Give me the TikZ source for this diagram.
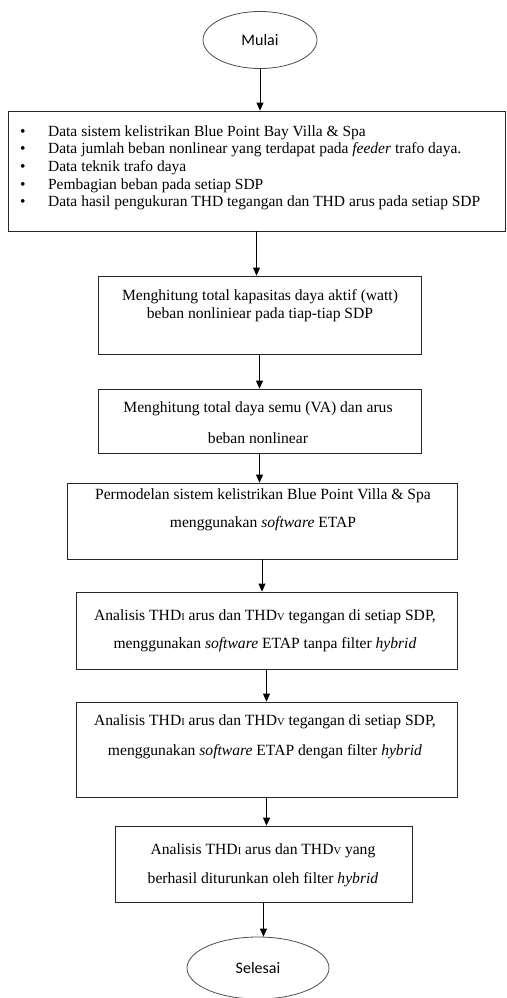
\documentclass[tikz,border=0pt]{standalone}
\usepackage{fontspec}
\setmainfont{Liberation Serif}
\newfontfamily\sansflow{Carlito}
\usetikzlibrary{shapes}
\usetikzlibrary{arrows.meta}

\newcommand{\thdx}[1]{THD{\fontsize{10.5}{10.5}\selectfont #1}}

\begin{document}
\begin{tikzpicture}[x=1pt, y=-1pt,
		kotak/.style={rectangle, draw=black!85, line width=0.8pt},
		bulat/.style={ellipse, draw=black!70, line width=0.8pt, font=\sansflow\fontsize{16}{18}\selectfont},
		isi/.style={anchor=north, align=center, inner sep=0pt, font=\fontsize{15.6}{#1}\selectfont},
		panah/.style={-{Triangle[width=7pt,length=8pt]}, line width=0.8pt}
		]
		
		\useasboundingbox (0,0) rectangle (506,998);
		
		\node[bulat, minimum width=114, minimum height=57] at (260,40) (mulai) {Mulai};
		\node[kotak, minimum width=497, minimum height=120] at (256.5,171) (data) {};
		\node[kotak, minimum width=323, minimum height=78] at (259.5,315) (hitungP) {};
		\node[kotak, minimum width=323, minimum height=64] at (259.5,421) (hitungS) {};
		\node[kotak, minimum width=390, minimum height=76] at (262,521) (model) {};
		\node[kotak, minimum width=381, minimum height=77] at (266.5,630.5) (tanpa) {};
		\node[kotak, minimum width=381, minimum height=95] at (266.5,749.5) (dengan) {};
		\node[kotak, minimum width=297, minimum height=76] at (263.5,864) (hasil) {};
		\node[bulat, minimum width=142, minimum height=62] at (258,968) (selesai) {Selesai};
		
		% isi kotak
		\node[anchor=north west, inner sep=0pt, font=\fontsize{15.5}{17.7}\selectfont] at (20,123.5) (tdata) {%
			\begin{tabular}{@{}l@{\hspace{22.5pt}}l@{}}
				\textbullet & Data sistem kelistrikan Blue Point Bay Villa \& Spa \\
				\textbullet & Data jumlah beban nonlinear yang terdapat pada \textit{feeder} trafo daya. \\
				\textbullet & Data teknik trafo daya \\
				\textbullet & Pembagian beban pada setiap SDP \\
				\textbullet & Data hasil pengukuran THD tegangan dan THD arus pada setiap SDP
			\end{tabular}};
		\node[isi=18] at (260,289.5) (thitungP) {Menghitung total kapasitas daya aktif (watt) \\ beban nonliniear pada tiap-tiap SDP};
		\node[isi=31] at (258,401.5) (thitungS) {Menghitung total daya semu (VA) dan arus \\ beban nonlinear};
		\node[isi=28] at (263,488.5) (tmodel) {Permodelan sistem kelistrikan Blue Point Villa \& Spa \\ menggunakan \textit{software} ETAP};
		\node[isi=28] at (265,609.5) (ttanpa) {Analisis \thdx{I} arus dan \thdx{V} tegangan di setiap SDP, \\ menggunakan \textit{software} ETAP tanpa filter \textit{hybrid}};
		\node[isi=30] at (265,714.5) (tdengan) {Analisis \thdx{I} arus dan \thdx{V} tegangan di setiap SDP, \\ menggunakan \textit{software} ETAP dengan filter \textit{hybrid}};
		\node[isi=29] at (263,843.5) (thasil) {Analisis \thdx{I} arus dan \thdx{V} yang \\ berhasil diturunkan oleh filter \textit{hybrid}};
		
		\path
		(mulai) edge[panah] (mulai |- data.north)
		(data.south) edge[panah] (data.south |- hitungP.north)
		(hitungP) edge[panah] (hitungP |- hitungS.north)
		(hitungS) edge[panah] (hitungS |- model.north)
		(model) edge[panah] (model |- tanpa.north)
		(tanpa) edge[panah] (tanpa |- dengan.north)
		(dengan) edge[panah] (dengan |- hasil.north)
		(hasil) edge[panah] (hasil |- selesai.north)
		;
		
\end{tikzpicture}
\end{document}
